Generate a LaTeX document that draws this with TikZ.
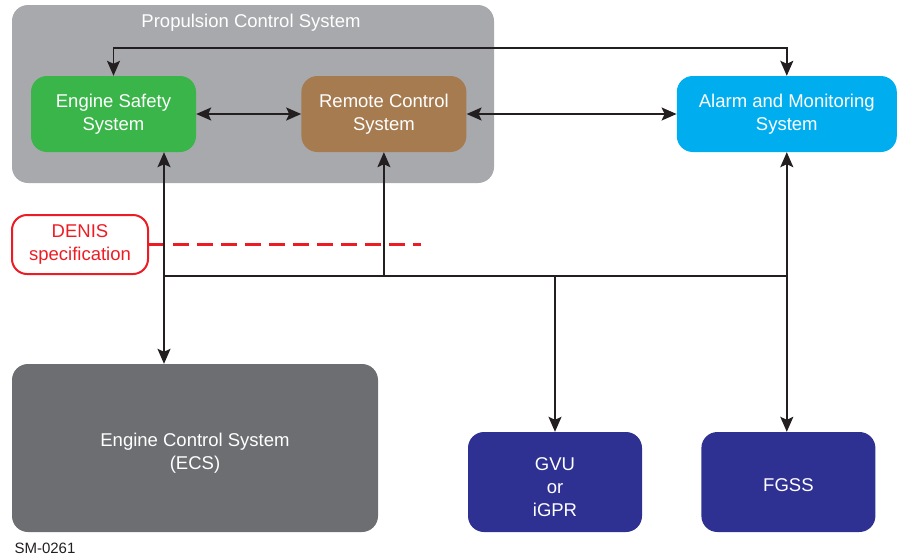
\documentclass[tikz,border=0pt]{standalone}
\usepackage{fontspec}
\setmainfont{Liberation Sans}
\usetikzlibrary{
  arrows.meta,
  positioning,
  calc
}
\definecolor{pcsgray}{HTML}{A7A9AC}
\definecolor{essgreen}{HTML}{3AB54A}
\definecolor{rcsbrown}{HTML}{A67B50}
\definecolor{amscyan}{HTML}{00AEEF}
\definecolor{ecsgray}{HTML}{6D6E71}
\definecolor{unitnavy}{HTML}{2E3192}
\definecolor{denisred}{HTML}{ED1C24}
\definecolor{linkblack}{HTML}{231F20}
\tikzset{
  sysblock/.style={
    rectangle, rounded corners=16pt, draw=none, text=white,
    minimum width=165pt, minimum height=76pt, inner sep=0pt,
    align=center, font=\fontsize{18.5}{23}\selectfont
  },
  groupbox/.style={
    rectangle, rounded corners=16pt, fill=pcsgray, draw=none,
    minimum width=482pt, minimum height=178pt, inner sep=0pt
  },
  specbox/.style={
    rectangle, rounded corners=15pt, draw=denisred, line width=2pt,
    text=denisred, minimum width=136pt, minimum height=59pt,
    align=center, font=\fontsize{18.5}{23}\selectfont
  },
  link/.style={draw=linkblack, line width=1.6pt},
  arrow/.style={link, -{Stealth[length=15pt, width=13pt, inset=3pt]}},
  biarrow/.style={link, {Stealth[length=15pt, width=13pt, inset=3pt]}-{Stealth[length=15pt, width=13pt, inset=3pt]}},
  specline/.style={draw=denisred, line width=2.6pt, dash pattern=on 16pt off 8pt}
}
\begin{document}
\begin{tikzpicture}[x=1pt, y=-1pt]
\useasboundingbox (0,0) rectangle (898,558);

% Propulsion control group
\node[groupbox] (pcs) at (253,94) {};
\node[text=white, font=\fontsize{18.5}{23}\selectfont] (pcstitle) at (251,23) {Propulsion Control System};

% Systems on top
\node[sysblock, fill=essgreen] (ess) at (113.5,114) {Engine Safety\\System};
\node[sysblock, fill=rcsbrown, right=105pt of ess] (rcs) {Remote Control\\System};
\node[sysblock, fill=amscyan, minimum width=220pt, right=210pt of rcs] (ams) {Alarm and Monitoring\\System};

% Bottom units
\node[sysblock, fill=ecsgray, minimum width=366pt, minimum height=168pt] (ecs) at (195,448)
  {\raisebox{-10pt}[0pt][0pt]{\parbox{300pt}{\centering Engine Control System\\(ECS)}}};
\node[sysblock, fill=unitnavy, minimum width=174pt, minimum height=100pt] (gvu) at (555,482)
  {\raisebox{-9pt}[0pt][0pt]{\parbox{100pt}{\centering GVU\\or\\iGPR}}};
\node[sysblock, fill=unitnavy, minimum width=174pt, minimum height=100pt, right=59pt of gvu] (fgss)
  {\raisebox{-9.5pt}[0pt][0pt]{FGSS}};

% DENIS
\node[specbox] (denis) at (80,244.5) {DENIS\\specification};
\coordinate (denisend) at (421,244.5);
\draw[specline] (denis.east) -- (denisend);

% Links
\coordinate (ptop) at (450,48);
\coordinate (busL) at (164,276);
\draw[biarrow] (ess.north) |- (ptop) -| (ams.north);
\draw[biarrow] (ess) -- (rcs);
\draw[biarrow] (rcs) -- (ams);
\draw[biarrow] (ess.south -| busL) -- (ecs.north -| busL);
\draw[link] (busL) -- (busL -| ams.south);
\draw[arrow] (rcs.south |- busL) -- (rcs.south);
\draw[arrow] (gvu.north |- busL) -- (gvu.north);
\draw[biarrow] (ams.south) -- (ams.south |- fgss.north);

% Drawing number
\node[text=linkblack, font=\fontsize{15}{18}\selectfont, anchor=west] (smno) at (11,548) {SM-0261};

\end{tikzpicture}
\end{document}
